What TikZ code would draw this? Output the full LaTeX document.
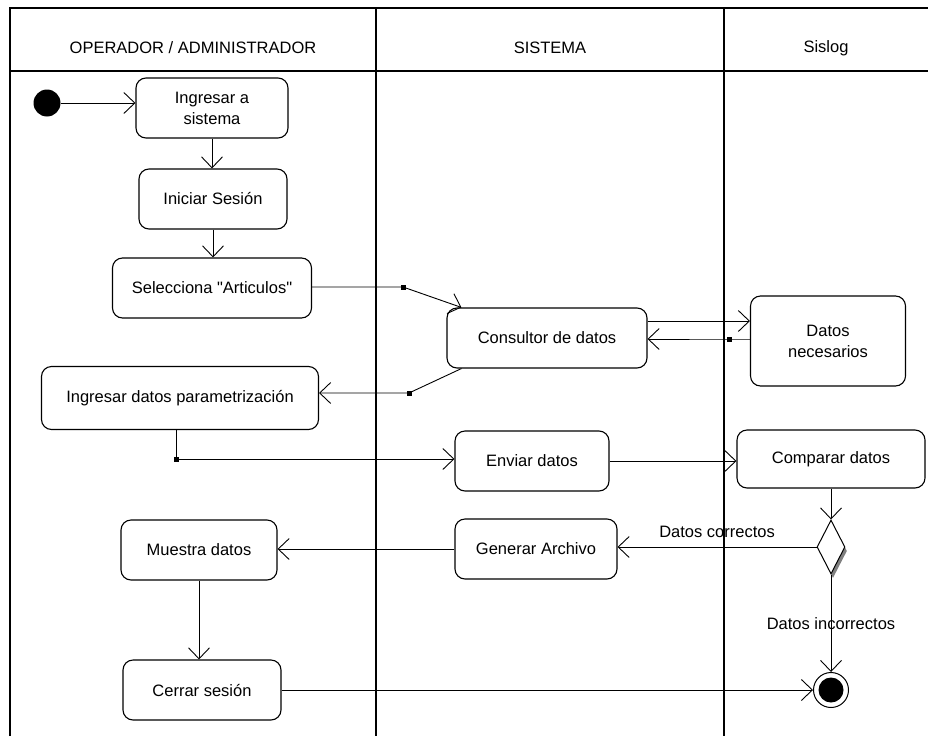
\documentclass[tikz,border=0pt]{standalone}
\usepackage{fontspec}
\setmainfont{Liberation Sans}
\newfontfamily\lanefont{Liberation Sans}
\usetikzlibrary{arrows.meta, shapes.geometric, shadows}

\begin{document}
\begin{tikzpicture}[
		base/.style={draw, rounded corners=10pt, line width=1.1pt, align=center,
			minimum height=60pt, font=\lanefont\fontsize{16.5pt}{21pt}\selectfont},
		link/.style={-{Straight Barb[length=11pt, width=21pt]}, draw, line width=0.9pt},
		lane/.style={draw, line width=1.2pt},
		joint/.style={fill, inner sep=0pt, minimum size=5pt},
		txt/.style={font=\lanefont\fontsize{16.5pt}{21pt}\selectfont},
		decision/.style={draw, diamond, minimum width=28pt, minimum height=54pt,
			inner sep=0pt, line width=1pt, fill=white,
			drop shadow={shadow xshift=2pt, shadow yshift=-4pt, fill=gray, opacity=1}}
	]

	\useasboundingbox (0pt, 0pt) rectangle (928pt, -736pt);

	\draw[lane] (10pt, -736pt) -- (10pt, -8pt) -- (928pt, -8pt);
	\draw[lane] (10pt, -71pt) -- (928pt, -71pt);
	\foreach \x in {376, 724}{
		\draw[lane] (\x pt, -8pt) -- (\x pt, -736pt);
	}

	\node[txt] at (193pt, -48pt) (actor) {OPERADOR / ADMINISTRADOR};
	\node[txt] at (550pt, -48pt) (sistema) {SISTEMA};
	\node[txt] at (826pt, -48pt) (sislog) {Sislog};

	\node[circle, fill, minimum size=27pt, inner sep=0pt] at (47pt, -103pt) (start) {};
	\node[base, minimum width=152pt] at (212pt, -108pt) (ingresar) {Ingresar a\\sistema};
	\node[base, minimum width=148pt] at (213pt, -199pt) (iniciar) {Iniciar Sesión};
	\node[base, minimum width=199pt] at (212pt, -288pt) (selecciona) {Selecciona "Articulos"};
	\node[base, minimum width=200pt] at (547pt, -338pt) (consultor) {Consultor de datos};
	\node[base, minimum width=155pt, minimum height=90pt] at (828pt, -341pt)
		(necesarios) {Datos\\necesarios};
	\node[base, minimum width=277pt, minimum height=63pt] at (180pt, -398pt)
		(parametros) {Ingresar datos parametrización};
	\node[base, minimum width=154pt] at (532pt, -461pt) (enviar) {Enviar datos};
	\node[base, minimum width=188pt, minimum height=58pt] at (831pt, -459pt)
		(comparar) {Comparar datos};
	\node[decision] at (831pt, -547pt) (decision) {};
	\node[base, minimum width=162pt] at (536pt, -549pt) (generar) {Generar Archivo};
	\node[base, minimum width=156pt] at (199pt, -550pt) (muestra) {Muestra datos};
	\node[base, minimum width=158pt] at (202pt, -690pt) (cerrar) {Cerrar sesión};
	\node[draw, circle, line width=1pt, minimum size=35pt, inner sep=0pt] at (831pt, -690pt)
		(fin) {};
	\fill (fin) circle (12.5pt);

	\node[joint] at (403pt, -287pt) (j1) {};
	\node[joint] at (409pt, -393pt) (j2) {};
	\node[joint] at (729pt, -339pt) (j3) {};
	\node[joint] at (176pt, -459pt) (j4) {};

	\draw[link] (start) -- (start -| ingresar.west);
	\draw[link] (ingresar.south) -- (ingresar.south |- iniciar.north);
	\draw[link] (iniciar.south) -- (iniciar.south |- selecciona.north);
	\draw[link] (selecciona.east |- j1) -- (j1.center) -- ([xshift=15pt]consultor.north west);
	\draw[link] ([xshift=15pt]consultor.south west) -- (j2.center) -- (j2 -| parametros.east);
	\draw[link] ([yshift=17pt]consultor.east) -- ([yshift=17pt]consultor.east -| necesarios.west);
	\draw[link] (necesarios.west |- j3) -- (j3.center) -- (j3 -| consultor.east);
	\draw[link] (j4 |- parametros.south) -- (j4.center) -- (j4 -| enviar.west);
	\draw[link] (enviar.east) -- (enviar.east -| comparar.west);
	\draw[link] (comparar) -- (decision);
	\draw[link] (decision) -- node[above, yshift=6pt, txt] (correctos) {Datos correctos}
		(decision -| generar.east);
	\draw[link] (generar.west) -- (generar.west -| muestra.east);
	\draw[link] (muestra.south) -- (muestra.south |- cerrar.north);
	\draw[link] (cerrar) -- (fin);
	\draw[link] (decision) -- node[txt] (incorrectos) {Datos incorrectos} (fin);

\end{tikzpicture}
\end{document}
